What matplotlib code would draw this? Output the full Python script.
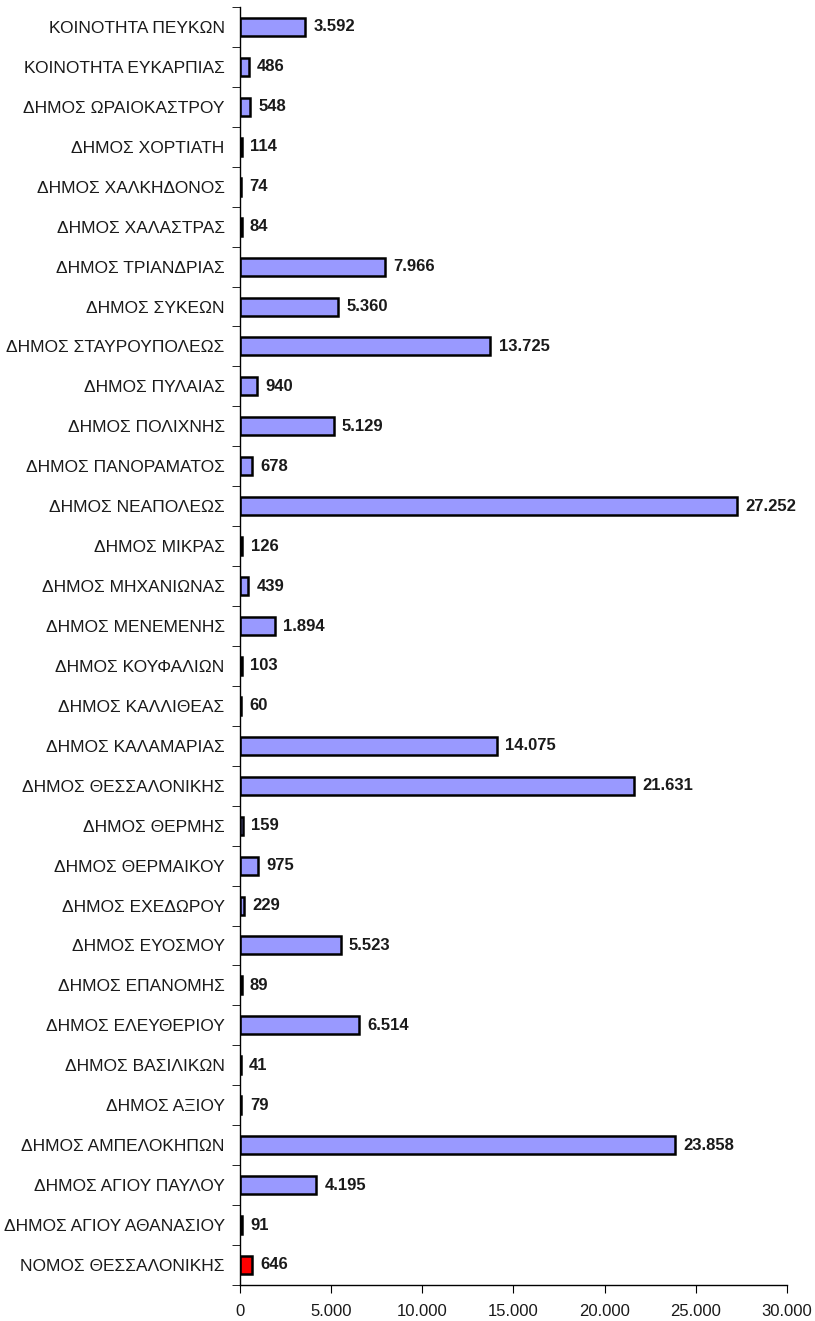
import matplotlib.pyplot as plt
from matplotlib.ticker import FuncFormatter, FixedLocator

labels = [
    "ΚΟΙΝΟΤΗΤΑ ΠΕΥΚΩΝ", "ΚΟΙΝΟΤΗΤΑ ΕΥΚΑΡΠΙΑΣ", "ΔΗΜΟΣ ΩΡΑΙΟΚΑΣΤΡΟΥ",
    "ΔΗΜΟΣ ΧΟΡΤΙΑΤΗ", "ΔΗΜΟΣ ΧΑΛΚΗΔΟΝΟΣ", "ΔΗΜΟΣ ΧΑΛΑΣΤΡΑΣ",
    "ΔΗΜΟΣ ΤΡΙΑΝΔΡΙΑΣ", "ΔΗΜΟΣ ΣΥΚΕΩΝ", "ΔΗΜΟΣ ΣΤΑΥΡΟΥΠΟΛΕΩΣ",
    "ΔΗΜΟΣ ΠΥΛΑΙΑΣ", "ΔΗΜΟΣ ΠΟΛΙΧΝΗΣ", "ΔΗΜΟΣ ΠΑΝΟΡΑΜΑΤΟΣ",
    "ΔΗΜΟΣ ΝΕΑΠΟΛΕΩΣ", "ΔΗΜΟΣ ΜΙΚΡΑΣ", "ΔΗΜΟΣ ΜΗΧΑΝΙΩΝΑΣ",
    "ΔΗΜΟΣ ΜΕΝΕΜΕΝΗΣ", "ΔΗΜΟΣ ΚΟΥΦΑΛΙΩΝ", "ΔΗΜΟΣ ΚΑΛΛΙΘΕΑΣ",
    "ΔΗΜΟΣ ΚΑΛΑΜΑΡΙΑΣ", "ΔΗΜΟΣ ΘΕΣΣΑΛΟΝΙΚΗΣ", "ΔΗΜΟΣ ΘΕΡΜΗΣ",
    "ΔΗΜΟΣ ΘΕΡΜΑΙΚΟΥ", "ΔΗΜΟΣ ΕΧΕΔΩΡΟΥ", "ΔΗΜΟΣ ΕΥΟΣΜΟΥ",
    "ΔΗΜΟΣ ΕΠΑΝΟΜΗΣ", "ΔΗΜΟΣ ΕΛΕΥΘΕΡΙΟΥ", "ΔΗΜΟΣ ΒΑΣΙΛΙΚΩΝ",
    "ΔΗΜΟΣ ΑΞΙΟΥ", "ΔΗΜΟΣ ΑΜΠΕΛΟΚΗΠΩΝ", "ΔΗΜΟΣ ΑΓΙΟΥ ΠΑΥΛΟΥ",
    "ΔΗΜΟΣ ΑΓΙΟΥ ΑΘΑΝΑΣΙΟΥ", "ΝΟΜΟΣ ΘΕΣΣΑΛΟΝΙΚΗΣ",
]
values = [
    3592, 486, 548, 114, 74, 84, 7966, 5360, 13725, 940, 5129, 678,
    27252, 126, 439, 1894, 103, 60, 14075, 21631, 159, 975, 229, 5523,
    89, 6514, 41, 79, 23858, 4195, 91, 646,
]
colors = ["#9999ff"] * (len(values) - 1) + ["#ff0000"]
xticks = [0, 5000, 10000, 15000, 20000, 25000, 30000]

plt.rcParams['font.family'] = ['Liberation Sans', 'DejaVu Sans']


def dotted(v):
    return f"{int(v):,}".replace(",", ".")


fig = plt.figure(figsize=(8.15, 13.21), dpi=100)
ax = fig.add_axes([0.2945, 0.0273, 0.671, 0.9674])

n = len(values)
ypos = list(range(n))[::-1]
ax.barh(ypos, values, height=0.45, color=colors, edgecolor="black", linewidth=1.8)

for y, v in zip(ypos, values):
    ax.annotate(dotted(v), (v, y), xytext=(6, 0), textcoords="offset points",
                va="center", ha="left", fontsize=12, fontweight="bold",
                color="#1a1a1a")

ax.set_xlim(0, 30000)
ax.set_ylim(-0.5, n - 0.5)
ax.set_xticks(xticks)
ax.xaxis.set_major_formatter(FuncFormatter(lambda v, p: dotted(v)))
ax.tick_params(axis="x", labelsize=12, length=6, direction="out", pad=8,
               labelcolor="#1a1a1a")

ax.set_yticks(ypos)
ax.set_yticklabels(labels, fontsize=12.5, color="#1a1a1a")
ax.tick_params(axis="y", which="major", length=0, pad=11)
ax.yaxis.set_minor_locator(FixedLocator([i + 0.5 for i in range(-1, n)]))
ax.tick_params(axis="y", which="minor", length=6)

for s in ["top", "right"]:
    ax.spines[s].set_visible(False)
ax.spines["left"].set_linewidth(1.0)
ax.spines["bottom"].set_linewidth(1.0)

fig.savefig("out.png", dpi=100)
